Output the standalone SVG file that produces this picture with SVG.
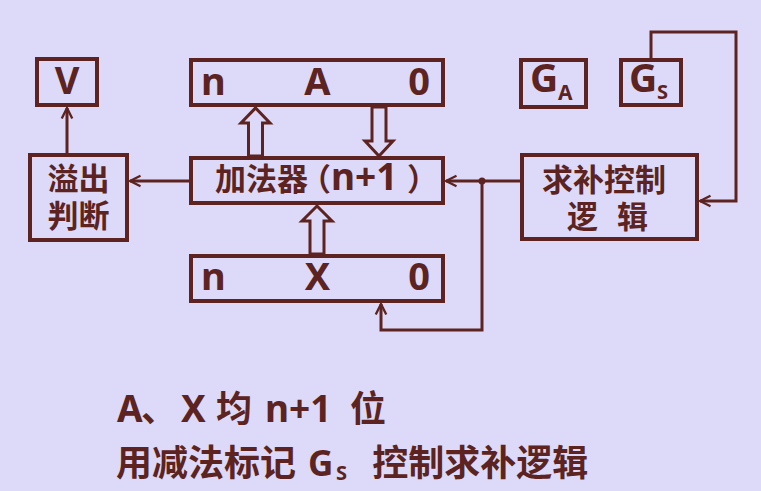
<svg xmlns="http://www.w3.org/2000/svg" width="761" height="491" viewBox="0 0 761 491">
<defs>
<style>
.box{fill:none;stroke:#5C2321;stroke-width:4}
.ln{fill:none;stroke:#5C2321;stroke-width:3}
.blk{fill:#DCDAF8;stroke:#5C2321;stroke-width:3;stroke-linejoin:miter}
text{fill:#5C2321;font-weight:bold;font-family:"Noto Sans","Noto Sans CJK SC",sans-serif}
.cjk{font-family:"Noto Sans CJK SC",sans-serif}
</style>
<marker id="ah" markerUnits="userSpaceOnUse" markerWidth="14" markerHeight="14" refX="10" refY="5" orient="auto" viewBox="0 0 12 10">
<path d="M1,0.5 L10,5 L1,9.5" fill="none" stroke="#5C2321" stroke-width="2"/>
</marker>
</defs>
<rect width="761" height="491" fill="#DCDAF8"/>

<g id="V">
<rect class="box" x="37" y="59" width="60" height="46"/>
<text x="67" y="94" font-size="38" text-anchor="middle">V</text>
</g>
<g id="regA">
<rect class="box" x="191" y="60" width="252" height="45"/>
<text x="201" y="95" font-size="38">n</text>
<text x="317.5" y="95" font-size="38" text-anchor="middle">A</text>
<text x="430" y="95" font-size="38" text-anchor="end">0</text>
</g>
<g id="adder">
<rect class="box" x="191" y="158" width="252" height="45"/>
<text y="190" class="cjk" font-size="31"><tspan x="215">加法器</tspan><tspan x="300">（</tspan><tspan x="331" font-size="37" font-family="Noto Sans">n+1</tspan><tspan x="407">）</tspan></text>
</g>
<g id="regX">
<rect class="box" x="191" y="256" width="252" height="45"/>
<text x="201" y="290" font-size="38">n</text>
<text x="317.5" y="290" font-size="38" text-anchor="middle">X</text>
<text x="430" y="290" font-size="38" text-anchor="end">0</text>
</g>
<g id="overflow">
<rect class="box" x="30" y="155" width="97" height="85"/>
<text x="78.5" y="190" class="cjk" font-size="31" text-anchor="middle">溢出</text>
<text x="78.5" y="227" class="cjk" font-size="31" text-anchor="middle">判断</text>
</g>
<g id="GA">
<rect class="box" x="521" y="60" width="65" height="47"/>
<text y="92" font-size="39"><tspan x="530">G</tspan><tspan x="558" y="100" font-size="21">A</tspan></text>
</g>
<g id="GS">
<rect class="box" x="621" y="60" width="60" height="45"/>
<text y="92" font-size="39"><tspan x="629">G</tspan><tspan x="657" y="99" font-size="20">S</tspan></text>
</g>
<g id="control">
<rect class="box" x="522" y="155" width="175" height="84"/>
<text x="542" y="191" class="cjk" font-size="31">求补控制</text>
<text x="567" y="228" class="cjk" font-size="31" word-spacing="12" xml:space="preserve">逻 辑</text>
</g>

<g id="connectors">
<path class="ln" d="M67,153 V108" marker-end="url(#ah)"/>
<path class="ln" d="M189,181 H130" marker-end="url(#ah)"/>
<path class="ln" d="M520,181 H446" marker-end="url(#ah)"/>
<circle cx="482" cy="181" r="3.5" fill="#5C2321"/>
<path class="ln" d="M482,181 V330 H381 V304" marker-end="url(#ah)"/>
<path class="ln" d="M651,58 V32 H736 V201 H700" marker-end="url(#ah)"/>
<polygon class="blk" points="248.5,156 248.5,123 241,123 255.5,108 270,123 262.5,123 262.5,156"/>
<polygon class="blk" points="372,107 372,141 365,141 379,156 393,141 386,141 386,107"/>
<polygon class="blk" points="310,254 310,221 302,221 317,206 332,221 324,221 324,254"/>
</g>

<g id="notes">
<text y="422" font-size="37"><tspan x="117">A</tspan><tspan x="141" class="cjk" font-size="36">、</tspan><tspan x="181">X </tspan><tspan x="216" class="cjk" font-size="36">均 </tspan><tspan x="265">n+1 </tspan><tspan x="350" class="cjk" font-size="36">位</tspan></text>
<text y="476" font-size="36"><tspan x="116" class="cjk">用减法标记 </tspan><tspan x="308" font-size="35">G</tspan><tspan x="336" y="480" font-size="20">S</tspan><tspan x="364" y="476" class="cjk"> 控制求补逻辑</tspan></text>
</g>
</svg>
